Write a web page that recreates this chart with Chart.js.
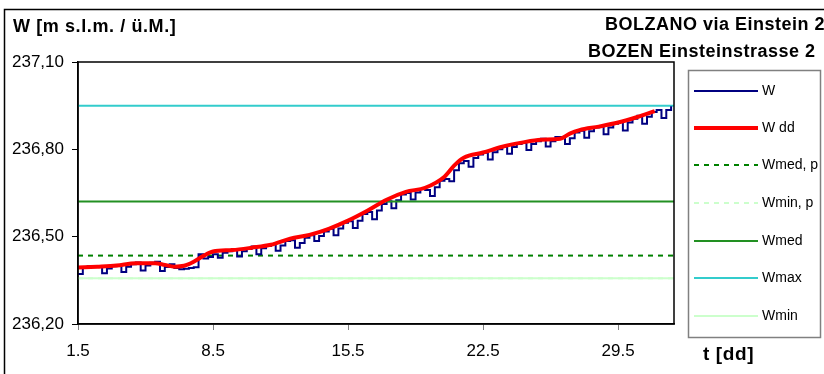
<!DOCTYPE html>
<html>
<head>
<meta charset="utf-8">
<script src="https://cdn.jsdelivr.net/npm/chart.js@4/dist/chart.umd.min.js"></script>
<style>
    html, body { margin: 0; padding: 0; background: #fff; }
    canvas { display: block; }
</style>
</head>
<body>
<canvas id="levelChart" width="824" height="374"></canvas>
<script>
// water level W, sampled every 6 hours starting at day 1.5
const wStart = 1.5;
const wStep = 0.25;
const wValues = [
    236.372, 236.392, 236.398, 236.396,
    236.399, 236.374, 236.391, 236.398,
    236.403, 236.379, 236.397, 236.405,
    236.411, 236.384, 236.401, 236.410,
    236.414, 236.382, 236.396, 236.405,
    236.392, 236.388, 236.390, 236.392,
    236.395, 236.440, 236.425, 236.430,
    236.440, 236.428, 236.445, 236.450,
    236.458, 236.432, 236.450, 236.458,
    236.466, 236.440, 236.460, 236.468,
    236.475, 236.452, 236.470, 236.485,
    236.488, 236.462, 236.478, 236.496,
    236.505, 236.485, 236.502, 236.518,
    236.527, 236.505, 236.528, 236.548,
    236.553, 236.530, 236.555, 236.578,
    236.585, 236.560, 236.590, 236.612,
    236.622, 236.598, 236.625, 236.645,
    236.650, 236.628, 236.652, 236.664,
    236.660, 236.640, 236.670, 236.692,
    236.698, 236.690, 236.728, 236.752,
    236.760, 236.740, 236.770, 236.782,
    236.788, 236.765, 236.790, 236.800,
    236.808, 236.785, 236.808, 236.818,
    236.822, 236.798, 236.818, 236.828,
    236.836, 236.810, 236.828, 236.842,
    236.842, 236.818, 236.838, 236.858,
    236.864, 236.840, 236.862, 236.875,
    236.880, 236.852, 236.875, 236.888,
    236.894, 236.865, 236.892, 236.905,
    236.915, 236.888, 236.912, 236.928,
    236.935, 236.908, 236.935, 236.948
];

// daily mean W dd
const wddDays = [1.5, 2.5, 3.5, 4.5, 5.5, 6.0, 6.5, 7.0, 7.5, 8.0, 8.5, 9.5, 10.5, 11.5, 12.5, 13.5, 14.5, 15.5,
    16.5, 17.5, 18.5, 19.5, 20.5, 21.0, 21.5, 22.5, 23.5, 24.5, 25.5, 26.5, 27.0, 27.5, 28.5, 29.5, 30.5, 31.4];
const wddValues = [236.394, 236.397, 236.401, 236.409, 236.409, 236.403, 236.397, 236.400, 236.414, 236.434, 236.449,
    236.454, 236.462, 236.472, 236.493, 236.506, 236.527, 236.555, 236.589, 236.627, 236.654, 236.668, 236.706,
    236.744, 236.771, 236.789, 236.809, 236.823, 236.833, 236.836, 236.854, 236.866, 236.878, 236.892, 236.911, 236.931];

// reference levels
const wMedP = 236.435;
const wMinP = 236.357;
const wMed = 236.621;
const wMax = 236.950;
const wMin = 236.357;

const xTicks = [1.5, 8.5, 15.5, 22.5, 29.5];
const yTicks = [236.2, 236.5, 236.8, 237.1];
const xMin = 1.5;
const xMax = 32.4;

const legendOrder = ['W', 'W dd', 'Wmed, p', 'Wmin, p', 'Wmed', 'Wmax', 'Wmin'];

function flatLine(v)
{
    return [{ x: xMin, y: v }, { x: xMax, y: v }];
}

const wPoints = wValues.map((v, i) => ({ x: wStart + i * wStep, y: v }));
const wddPoints = wddDays.map((d, i) => ({ x: d, y: wddValues[i] }));

const datasets = [
    { label: 'W', data: wPoints, borderColor: '#000080', borderWidth: 2, stepped: true, order: 2 },
    { label: 'W dd', data: wddPoints, borderColor: '#ff0000', borderWidth: 4, cubicInterpolationMode: 'monotone', order: 0 },
    { label: 'Wmed, p', data: flatLine(wMedP), borderColor: '#008000', borderWidth: 2, borderDash: [5, 5], order: 3 },
    { label: 'Wmin, p', data: flatLine(wMinP), borderColor: '#ccffcc', borderWidth: 2, borderDash: [5, 5], order: 3 },
    { label: 'Wmed', data: flatLine(wMed), borderColor: '#229022', borderWidth: 2, order: 1 },
    { label: 'Wmax', data: flatLine(wMax), borderColor: '#33cccc', borderWidth: 2, order: 3 },
    { label: 'Wmin', data: flatLine(wMin), borderColor: '#ccffcc', borderWidth: 2, order: 3 }
];

const frameAndText = {
    id: 'frameAndText',
    beforeDraw(chart) {
        const ctx = chart.ctx;
        ctx.save();
        ctx.fillStyle = '#fff';
        ctx.fillRect(0, 0, chart.width, chart.height);
        ctx.restore();
    },
    afterDraw(chart) {
        const ctx = chart.ctx;
        const area = chart.chartArea;
        ctx.save();

        // outer frame
        ctx.strokeStyle = '#000';
        ctx.lineWidth = 1.5;
        ctx.beginPath();
        ctx.moveTo(4.5, 374);
        ctx.lineTo(4.5, 9.5);
        ctx.lineTo(824, 9.5);
        ctx.stroke();

        // plot box
        ctx.strokeRect(area.left, area.top, area.right - area.left, area.bottom - area.top);

        // titles
        ctx.fillStyle = '#000';
        ctx.textBaseline = 'middle';
        ctx.textAlign = 'left';
        ctx.font = 'bold 18px "Liberation Sans", Arial, sans-serif';
        ctx.letterSpacing = '0.6px';
        ctx.fillText('W [m s.l.m. / \u00fc.M.]', 13, 27);
        ctx.letterSpacing = '0.5px';
        ctx.fillText('BOLZANO via Einstein 2', 605, 25);
        ctx.fillText('BOZEN Einsteinstrasse 2', 588, 52);
        ctx.font = 'bold 19px "Liberation Sans", Arial, sans-serif';
        ctx.letterSpacing = '0.6px';
        ctx.fillText('t [dd]', 703, 355);
        ctx.letterSpacing = '0px';

        // legend
        ctx.strokeStyle = '#808080';
        ctx.lineWidth = 1.5;
        ctx.strokeRect(688.5, 70.5, 132, 267);
        const rowY = [91, 128, 165, 203, 241, 278, 316];
        ctx.font = '14px "Liberation Sans", Arial, sans-serif';
        legendOrder.forEach((name, i) => {
            const ds = chart.data.datasets.find(d => d.label === name);
            ctx.strokeStyle = ds.borderColor;
            ctx.lineWidth = ds.borderWidth;
            ctx.setLineDash(ds.borderDash || []);
            ctx.beginPath();
            ctx.moveTo(694, rowY[i]);
            ctx.lineTo(758, rowY[i]);
            ctx.stroke();
            ctx.setLineDash([]);
            ctx.fillStyle = '#000';
            ctx.fillText(name, 762, rowY[i]);
        });
        ctx.restore();
    }
};

new Chart(document.getElementById('levelChart'), {
    type: 'line',
    data: { datasets: datasets },
    options: {
        responsive: false,
        animation: false,
        layout: { padding: { left: 0, top: 62, right: 150, bottom: 10 } },
        elements: { point: { radius: 0 }, line: { tension: 0 } },
        plugins: { legend: { display: false }, tooltip: { enabled: false } },
        scales: {
            x: {
                type: 'linear',
                min: xMin,
                max: xMax,
                afterBuildTicks: axis => { axis.ticks = xTicks.map(v => ({ value: v })); },
                afterFit: axis => { axis.height = 40; },
                grid: { drawOnChartArea: false, tickLength: 6, color: '#808080' },
                border: { color: '#000', width: 1.5 },
                ticks: {
                    color: '#000',
                    padding: 11,
                    maxRotation: 0,
                    font: { family: '"Liberation Sans Narrow", "Liberation Sans", sans-serif', size: 17 },
                    callback: v => v.toFixed(1)
                }
            },
            y: {
                min: 236.2,
                max: 237.1,
                afterBuildTicks: axis => { axis.ticks = yTicks.map(v => ({ value: v })); },
                afterFit: axis => { axis.width = 78; },
                grid: { drawOnChartArea: false, tickLength: 6, color: '#000' },
                border: { color: '#000', width: 1.5 },
                ticks: {
                    color: '#000',
                    padding: 8,
                    font: { family: '"Liberation Sans", Arial, sans-serif', size: 17 },
                    callback: v => v.toFixed(2).replace('.', ',')
                }
            }
        }
    },
    plugins: [frameAndText]
});
</script>
</body>
</html>
